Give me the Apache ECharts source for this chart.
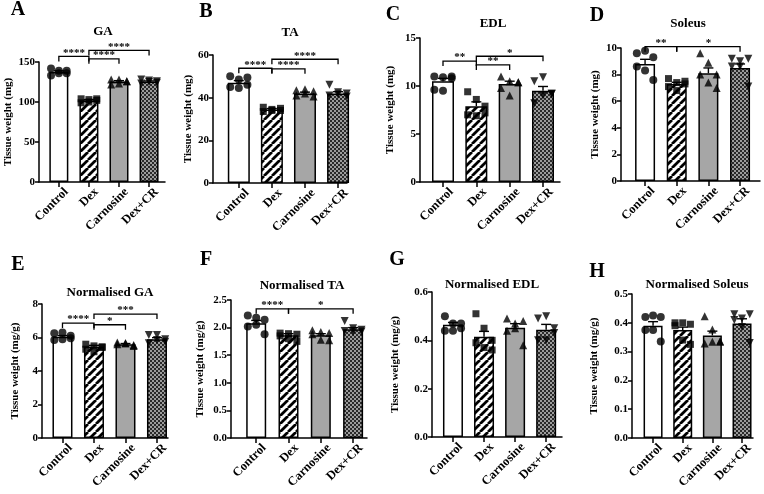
<!DOCTYPE html>
<html>
<head>
<meta charset="utf-8">
<script src="https://cdn.jsdelivr.net/npm/echarts@6/dist/echarts.min.js"></script>
<style>
html, body { margin: 0; padding: 0; background: #fff; }
#chart { width: 764px; height: 494px; }
</style>
</head>
<body>
<div id="chart"></div>
<script>
const groups = ['Control', 'Dex', 'Carnosine', 'Dex+CR']

// A: GA (mg)
const gaPoints = [[142, 139, 136, 133, 136, 139], [104, 103, 104, 99, 100, 102], [128, 128, 126, 122, 123, 126], [128, 127, 126, 123, 125, 124]]
const gaMean = [137.5, 102, 125.5, 125.5]
const gaSem = [1.5, 1, 1.2, 0.8]
const gaSig = [[0, 1, 157, '****'], [1, 2, 154, '****'], [1, 3, 164.5, '****']]

// B: TA (mg)
const taPoints = [[50, 48.5, 49.5, 45, 44.5, 46], [35.5, 34.5, 35, 33.5, 34, 34], [43.5, 44, 43, 41, 42, 40.5], [46, 42.5, 42, 41, 41.5, 40.5]]
const taMean = [47, 34.5, 42, 42]
const taSem = [1, 0.4, 0.6, 0.8]
const taSig = [[0, 1, 53.8, '****'], [1, 2, 53.5, '****'], [1, 3, 58, '****']]

// C: EDL (mg)
const edlPoints = [[11.0, 10.9, 11.0, 9.6, 9.5, 10.8], [9.4, 8.6, 7.9, 7.0, 6.9, 7.2], [11.0, 10.5, 10.4, 9.8, 9.0, 10.4], [10.5, 10.9, 9.2, 8.2, 9.0, 9.2]]
const edlMean = [10.5, 7.9, 10.2, 9.5]
const edlSem = [0.3, 0.45, 0.3, 0.45]
const edlSig = [[0, 1, 12.6, '**'], [1, 2, 12.2, '**'], [1, 3, 13.1, '*']]

// D: Soleus (mg)
const solPoints = [[9.6, 9.8, 9.3, 8.6, 8.3, 7.6], [7.7, 7.4, 7.3, 7.1, 6.8, 7.5], [9.6, 8.9, 8.0, 8.0, 7.4, 7.0], [9.2, 9.0, 9.2, 8.6, 8.6, 7.1]]
const solMean = [8.8, 7.3, 8.1, 8.5]
const solSem = [0.35, 0.12, 0.4, 0.3]
const solSig = [[0, 1, 10.1, '**'], [1, 3, 10.1, '*']]

// E: Normalised GA (mg/g)
const nGaPoints = [[6.25, 6.3, 6.1, 5.85, 5.9, 5.95], [5.6, 5.5, 5.45, 5.3, 5.15, 5.4], [5.7, 5.65, 5.5, 5.6, 5.65, 5.55], [6.15, 6.15, 5.9, 5.65, 5.85, 5.75]]
const nGaMean = [6.05, 5.45, 5.6, 5.9]
const nGaSem = [0.07, 0.08, 0.04, 0.09]
const nGaSig = [[0, 1, 6.86, '****'], [1, 2, 6.76, '*'], [1, 3, 7.4, '***']]

// F: Normalised TA (mg/g)
const nTaPoints = [[2.22, 2.18, 2.14, 2.02, 2.05, 1.88], [1.9, 1.89, 1.88, 1.85, 1.8, 1.75], [1.95, 1.92, 1.9, 1.88, 1.78, 1.77], [2.12, 1.99, 1.96, 1.94, 1.92, 1.93]]
const nTaMean = [2.08, 1.86, 1.86, 1.97]
const nTaSem = [0.05, 0.03, 0.03, 0.03]
const nTaSig = [[0, 1, 2.34, '****'], [1, 3, 2.34, '*']]

// G: Normalised EDL (mg/g)
const nEdlPoints = [[0.50, 0.47, 0.47, 0.44, 0.44, 0.45], [0.51, 0.45, 0.40, 0.39, 0.37, 0.36], [0.49, 0.47, 0.48, 0.44, 0.45, 0.38], [0.49, 0.50, 0.45, 0.40, 0.40, 0.43]]
const nEdlMean = [0.465, 0.415, 0.452, 0.444]
const nEdlSem = [0.009, 0.022, 0.017, 0.022]
const nEdlSig = []

// H: Normalised Soleus (mg/g)
const nSolPoints = [[0.42, 0.425, 0.42, 0.375, 0.375, 0.335], [0.40, 0.40, 0.395, 0.39, 0.34, 0.325], [0.423, 0.377, 0.334, 0.328, 0.334, 0.336], [0.43, 0.415, 0.43, 0.41, 0.385, 0.33]]
const nSolMean = [0.39, 0.375, 0.356, 0.398]
const nSolSem = [0.014, 0.01, 0.015, 0.016]
const nSolSig = []

// y ticks: [max, interval, decimals]
const yTicks = [[150, 50, 0], [60, 20, 0], [15, 5, 0], [10, 2, 0], [8, 2, 0], [2.5, 0.5, 1], [0.6, 0.2, 1], [0.5, 0.1, 1]]

const panels = [
	{ letter: 'A', title: 'GA', unit: 'mg', pts: gaPoints, mean: gaMean, sem: gaSem, sig: gaSig },
	{ letter: 'B', title: 'TA', unit: 'mg', pts: taPoints, mean: taMean, sem: taSem, sig: taSig },
	{ letter: 'C', title: 'EDL', unit: 'mg', pts: edlPoints, mean: edlMean, sem: edlSem, sig: edlSig },
	{ letter: 'D', title: 'Soleus', unit: 'mg', pts: solPoints, mean: solMean, sem: solSem, sig: solSig },
	{ letter: 'E', title: 'Normalised GA', unit: 'mg/g', pts: nGaPoints, mean: nGaMean, sem: nGaSem, sig: nGaSig },
	{ letter: 'F', title: 'Normalised TA', unit: 'mg/g', pts: nTaPoints, mean: nTaMean, sem: nTaSem, sig: nTaSig },
	{ letter: 'G', title: 'Normalised EDL', unit: 'mg/g', pts: nEdlPoints, mean: nEdlMean, sem: nEdlSem, sig: nEdlSig },
	{ letter: 'H', title: 'Normalised Soleus', unit: 'mg/g', pts: nSolPoints, mean: nSolMean, sem: nSolSem, sig: nSolSig }
]

// layout of each panel (pixels) and x range in category units
const boxes = [
	{ left: 39, top: 62, width: 126, height: 120, xMin: -0.66, xMax: 3.53, bw: 19, gap: 25, tx: 103, ty: 32, lx: 18, ly: 10 },
	{ left: 213, top: 55, width: 134, height: 128, xMin: -0.78, xMax: 3.27, bw: 22, gap: 15, tx: 290, ty: 33, lx: 206, ly: 12 },
	{ left: 420, top: 38, width: 140, height: 144, xMin: -0.69, xMax: 3.51, bw: 22, gap: 24, tx: 493, ty: 24, lx: 393, ly: 15 },
	{ left: 621, top: 48, width: 139, height: 133, xMin: -0.76, xMax: 3.63, bw: 20, gap: 20, tx: 688, ty: 24, lx: 597, ly: 16 },
	{ left: 42, top: 304, width: 126, height: 134, xMin: -0.65, xMax: 3.35, bw: 20, gap: 21, tx: 110, ty: 293, lx: 18, ly: 265 },
	{ left: 231, top: 300, width: 136, height: 138, xMin: -0.78, xMax: 3.43, bw: 20, gap: 25, tx: 302, ty: 286, lx: 206, ly: 260 },
	{ left: 432, top: 292, width: 130, height: 145, xMin: -0.675, xMax: 3.51, bw: 20, gap: 31, tx: 492, ty: 285, lx: 397, ly: 260 },
	{ left: 632, top: 294, width: 121, height: 144, xMin: -0.71, xMax: 3.37, bw: 19, gap: 32, tx: 697, ty: 285, lx: 597, ly: 272 }
]

const spread = [-0.26, 0, 0.26, -0.26, 0, 0.26]
const labelShift = 0.25
const serif = '"Liberation Serif", "Times New Roman", serif'

function stripes() {
	const c = document.createElement('canvas')
	c.width = c.height = 8
	const g = c.getContext('2d')
	g.fillStyle = '#fff'
	g.fillRect(0, 0, 8, 8)
	g.strokeStyle = '#000'
	g.lineWidth = 2.8
	g.beginPath()
	for (let k = -8; k <= 8; k += 8) {
		g.moveTo(k, 8)
		g.lineTo(k + 8, 0)
	}
	g.stroke()
	return c
}

function checker() {
	const c = document.createElement('canvas')
	c.width = c.height = 4
	const g = c.getContext('2d')
	g.fillStyle = '#2a2a2a'
	g.fillRect(0, 0, 4, 4)
	g.fillStyle = '#9c9c9c'
	g.fillRect(0, 0, 2, 2)
	g.fillRect(2, 2, 2, 2)
	return c
}

const fills = ['#ffffff', { image: stripes(), repeat: 'repeat' }, '#a6a6a6', { image: checker(), repeat: 'repeat' }]
const symbols = [['circle', 0, 8], ['rect', 0, 7], ['triangle', 0, 8], ['triangle', 180, 8]]

const grid = []
const xAxis = []
const yAxis = []
const series = []
const graphic = []

panels.forEach((p, k) => {
	const b = boxes[k]
	const t = yTicks[k]
	grid.push({ left: b.left, top: b.top, width: b.width, height: b.height })
	xAxis.push({
		type: 'value',
		gridIndex: k,
		min: b.xMin,
		max: b.xMax,
		splitLine: { show: false },
		axisLine: { onZero: false, lineStyle: { color: '#000', width: 1.5 } },
		axisTick: { customValues: [0, 1, 2, 3], length: 5, lineStyle: { color: '#000', width: 1.5 } },
		axisLabel: {
			customValues: groups.map((g, i) => i + labelShift),
			formatter: (v) => groups[Math.round(v - labelShift)],
			rotate: 45,
			margin: 8,
			color: '#000',
			fontFamily: serif,
			fontWeight: 'bold',
			fontSize: 12.5
		}
	})
	yAxis.push({
		type: 'value',
		gridIndex: k,
		min: 0,
		max: t[0],
		interval: t[1],
		name: 'Tissue weight (' + p.unit + ')',
		nameLocation: 'middle',
		nameGap: b.gap,
		nameTextStyle: { color: '#000', fontFamily: serif, fontWeight: 'bold', fontSize: 11 },
		splitLine: { show: false },
		axisLine: { show: true, onZero: false, lineStyle: { color: '#000', width: 1.5 } },
		axisTick: { show: true, length: 4, lineStyle: { color: '#000', width: 1.5 } },
		axisLabel: {
			margin: 4,
			color: '#000',
			fontFamily: serif,
			fontWeight: 'bold',
			fontSize: 11,
			formatter: (v) => v.toFixed(t[2])
		}
	})

	series.push({
		type: 'bar',
		xAxisIndex: k,
		yAxisIndex: k,
		barWidth: b.bw,
		z: 2,
		itemStyle: { borderColor: '#000', borderWidth: 1.5 },
		data: p.mean.map((m, i) => ({ value: [i, m], itemStyle: { color: fills[i] } }))
	})

	series.push({
		type: 'custom',
		xAxisIndex: k,
		yAxisIndex: k,
		z: 3,
		data: p.mean.map((m, i) => [i, m, m + p.sem[i]]),
		renderItem: (params, api) => {
			const a = api.coord([api.value(0), api.value(1)])
			const q = api.coord([api.value(0), api.value(2)])
			const st = { stroke: '#000', lineWidth: 1.4 }
			return {
				type: 'group',
				children: [
					{ type: 'line', shape: { x1: a[0], y1: a[1], x2: q[0], y2: q[1] }, style: st },
					{ type: 'line', shape: { x1: q[0] - 5, y1: q[1], x2: q[0] + 5, y2: q[1] }, style: st }
				]
			}
		}
	})

	const dots = []
	p.pts.forEach((vals, i) => {
		vals.forEach((v, j) => {
			dots.push({ value: [i + spread[j], v], symbol: symbols[i][0], symbolRotate: symbols[i][1], symbolSize: symbols[i][2] })
		})
	})
	series.push({
		type: 'scatter',
		xAxisIndex: k,
		yAxisIndex: k,
		z: 4,
		itemStyle: { color: '#000' },
		data: dots
	})

	if (p.sig.length) {
		series.push({
			type: 'custom',
			xAxisIndex: k,
			yAxisIndex: k,
			z: 5,
			clip: false,
			data: p.sig.map((s) => [s[0], s[2], s[1]]),
			renderItem: (params, api) => {
				const s = p.sig[params.dataIndex]
				const a = api.coord([s[0], s[2]])
				const c = api.coord([s[1], s[2]])
				return {
					type: 'group',
					children: [
						{
							type: 'polyline',
							shape: { points: [[a[0], a[1] + 5], a, c, [c[0], c[1] + 5]] },
							style: { stroke: '#000', lineWidth: 1.3, fill: null }
						},
						{
							type: 'text',
							x: (a[0] + c[0]) / 2,
							y: a[1] + 2,
							style: { text: s[3], fill: '#000', font: 'bold 11px ' + serif, align: 'center', verticalAlign: 'bottom' }
						}
					]
				}
			}
		})
	}

	graphic.push({
		type: 'text',
		x: b.tx,
		y: b.ty,
		style: { text: p.title, fill: '#000', font: 'bold 13px ' + serif, align: 'center', verticalAlign: 'middle' }
	})
	graphic.push({
		type: 'text',
		x: b.lx,
		y: b.ly,
		style: { text: p.letter, fill: '#000', font: 'bold 20px ' + serif, align: 'center', verticalAlign: 'middle' }
	})
})

const myChart = echarts.init(document.getElementById('chart'))
myChart.setOption({
	animation: false,
	backgroundColor: '#fff',
	grid,
	xAxis,
	yAxis,
	series,
	graphic
})
</script>
</body>
</html>
